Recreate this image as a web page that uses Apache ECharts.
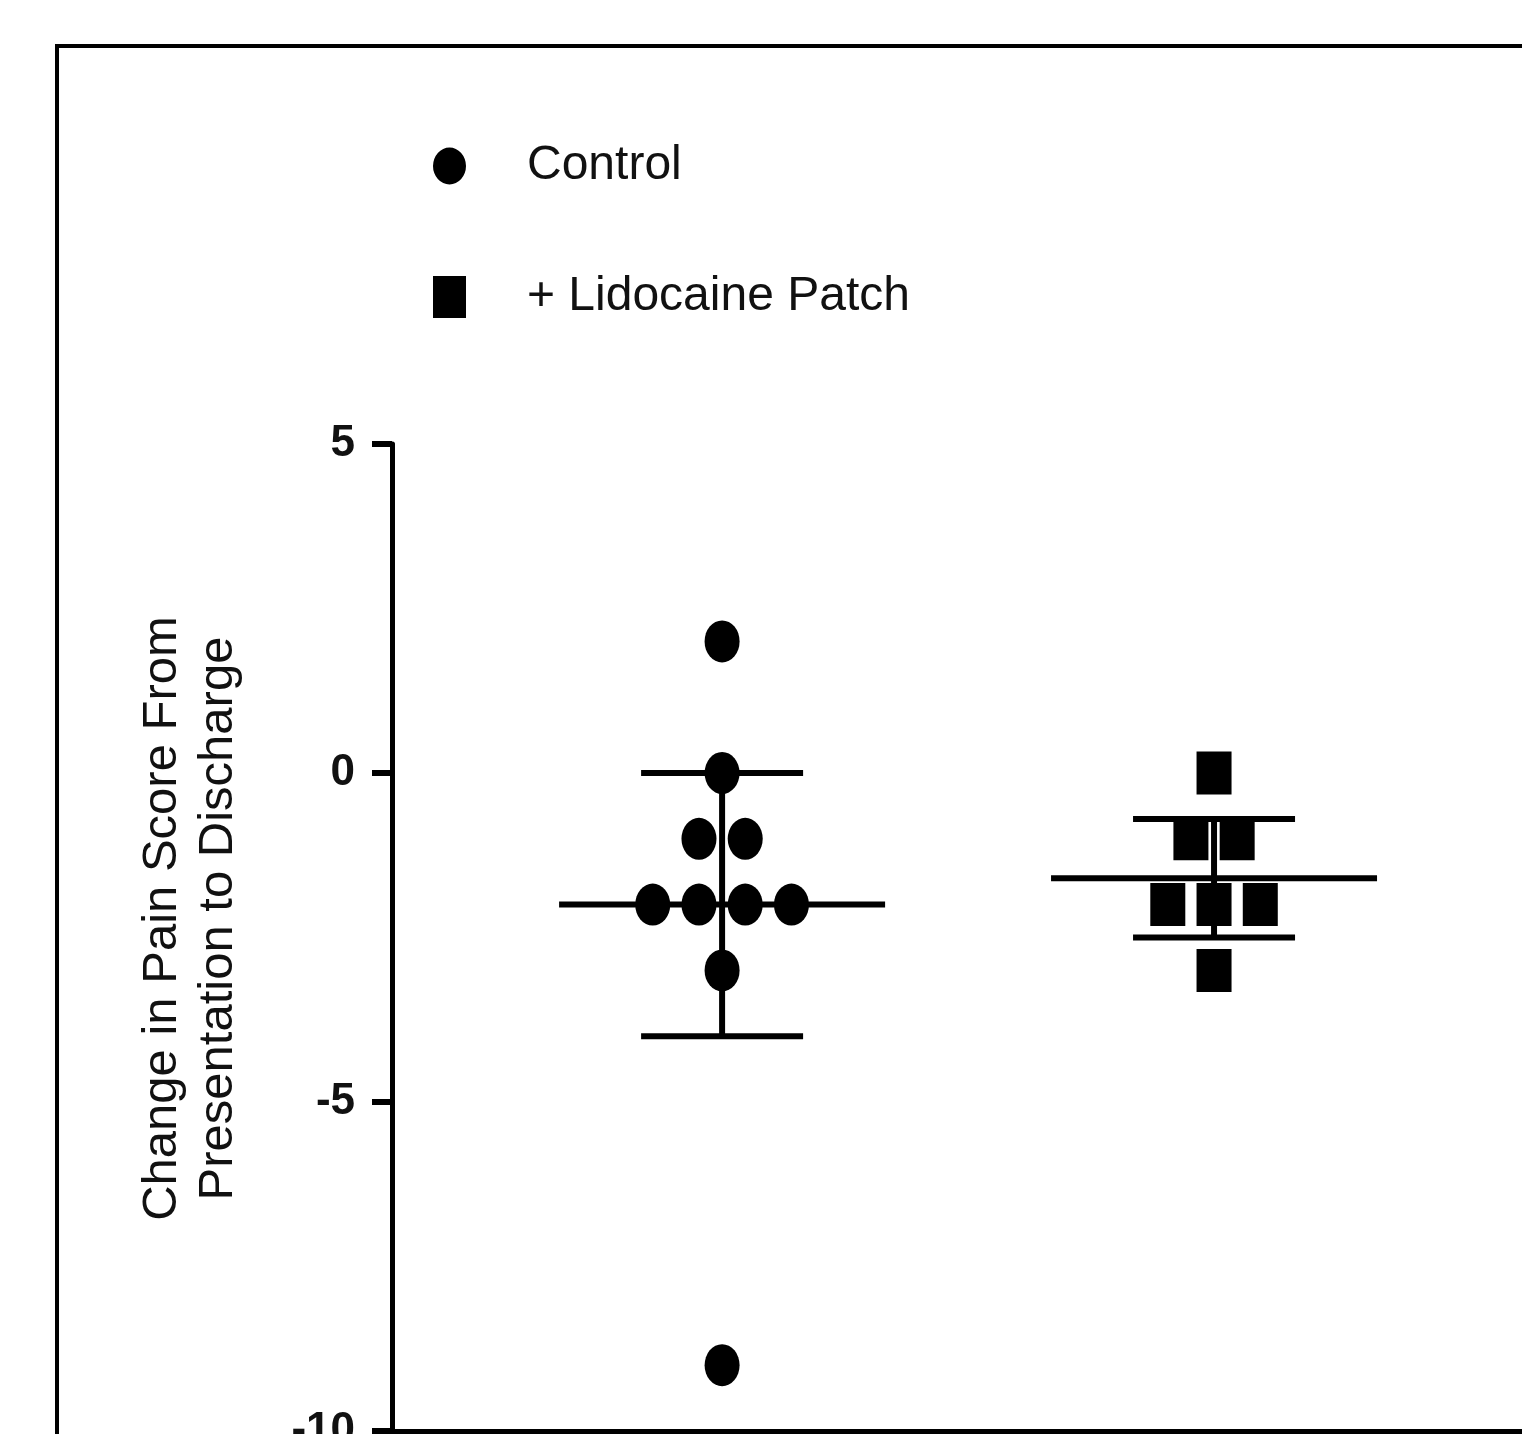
<!DOCTYPE html>
<html>
<head>
<meta charset="utf-8">
<script src="https://cdn.jsdelivr.net/npm/echarts@6/dist/echarts.min.js"></script>
<style>
  html, body { margin: 0; padding: 0; background: #fff; }
  #chart { width: 1522px; height: 1434px; }
</style>
</head>
<body>
<div id="chart"></div>
<script>
// groups and raw values
const groupNames = ['Control', '+ Lidocaine Patch'];
const groupX = [1, 2];
const controlValues = [2, 0, -1, -1, -2, -2, -2, -2, -3, -9];
const lidocaineValues = [0, -1, -1, -2, -2, -2, -3];
// mean line and error bar ends
const groupMeans = [-2, -1.6];
const barLow = [-4, -2.5];
const barHigh = [0, -0.7];
const yTicks = { min: -10, max: 5, interval: 5 };
const yName = 'Change in Pain Score From\nPresentation to Discharge';

const FONT = 'Liberation Sans, Arial, sans-serif';
const ELLIPSE = 'path://M50,0 A50,50 0 1,1 50,100 A50,50 0 1,1 50,0 Z';
// legend icons keep their aspect, so give this one the tall shape itself
const LEGEND_ELLIPSE = 'path://M50,0 A50,56 0 1,1 50,112 A50,56 0 1,1 50,0 Z';

// spread equal values sideways, like a dot plot
const spread = (values, cx, step) => {
    const counts = {};
    values.forEach(v => { counts[v] = (counts[v] || 0) + 1; });
    const seen = {};
    return values.map(v => {
        const k = seen[v] || 0;
        seen[v] = k + 1;
        return [cx + (k - (counts[v] - 1) / 2) * step, v];
    });
};

const STEP = 0.094;
const controlPoints = spread(controlValues, groupX[0], STEP);
const lidoPoints = spread(lidocaineValues, groupX[1], STEP);
const barData = groupX.map((x, i) => [x, groupMeans[i], barLow[i], barHigh[i]]);

const chart = echarts.init(document.getElementById('chart'), null, { renderer: 'canvas' });

const legendBase = {
    left: 433,
    padding: 0,
    selectedMode: false,
    itemStyle: { color: '#000', opacity: 1 },
};

const option = {
    backgroundColor: '#fff',
    animation: false,
    graphic: [{
        type: 'rect',
        shape: { x: 57, y: 46, width: 1600, height: 1600 },
        style: { fill: 'none', stroke: '#000', lineWidth: 4 },
        z: -1
    }],
    legend: [Object.assign({}, legendBase, {
        data: [{ name: groupNames[0], icon: LEGEND_ELLIPSE }],
        top: 142,
        itemWidth: 33,
        itemHeight: 38,
        textStyle: { fontSize: 48, fontFamily: FONT, color: '#111', padding: [0, 0, 4, 56] }
    }), Object.assign({}, legendBase, {
        data: [{ name: groupNames[1], icon: 'rect' }],
        top: 273,
        itemWidth: 33,
        itemHeight: 42,
        textStyle: { fontSize: 48, fontFamily: FONT, color: '#111', padding: [0, 0, 46, 56] }
    })],
    grid: { left: 392, right: 0, top: 444, bottom: 3, outerBoundsMode: 'none', containLabel: false },
    xAxis: {
        type: 'value',
        min: 0.329,
        max: 2.626,
        axisLine: { show: true, onZero: false, lineStyle: { color: '#000', width: 5 } },
        axisTick: { show: false },
        axisLabel: { show: false },
        splitLine: { show: false }
    },
    yAxis: {
        type: 'value',
        min: yTicks.min,
        max: yTicks.max,
        interval: yTicks.interval,
        name: yName,
        nameLocation: 'middle',
        nameRotate: 90,
        nameGap: 146,
        nameTextStyle: {
            fontSize: 49, fontFamily: FONT, color: '#111', lineHeight: 56,
            align: 'center', padding: [0, 0, 0, 38]
        },
        axisLine: { show: true, lineStyle: { color: '#000', width: 5 } },
        axisTick: { show: true, length: 20, lineStyle: { color: '#000', width: 6 } },
        axisLabel: { fontSize: 44, fontWeight: 'bold', fontFamily: FONT, color: '#111', margin: 37 },
        splitLine: { show: false }
    },
    series: [{
        name: 'bars',
        type: 'custom',
        z: 1,
        data: barData,
        renderItem: (params, api) => {
            const x = api.value(0);
            const mid = api.coord([x, api.value(1)]);
            const lo = api.coord([x, api.value(2)]);
            const hi = api.coord([x, api.value(3)]);
            const st = { stroke: '#000', lineWidth: 6 };
            const seg = (x1, y1, x2, y2) => ({ type: 'line', shape: { x1, y1, x2, y2 }, style: st });
            return {
                type: 'group',
                children: [
                    seg(mid[0], hi[1], mid[0], lo[1]),
                    seg(mid[0] - 81, hi[1], mid[0] + 81, hi[1]),
                    seg(mid[0] - 81, lo[1], mid[0] + 81, lo[1]),
                    seg(mid[0] - 163, mid[1], mid[0] + 163, mid[1])
                ]
            };
        }
    }, {
        name: groupNames[0],
        type: 'scatter',
        z: 3,
        symbol: ELLIPSE,
        symbolSize: [35, 42],
        itemStyle: { color: '#000', opacity: 1 },
        data: controlPoints
    }, {
        name: groupNames[1],
        type: 'scatter',
        z: 3,
        symbol: 'rect',
        symbolSize: [35, 43],
        itemStyle: { color: '#000', opacity: 1 },
        data: lidoPoints
    }]
};

chart.setOption(option);
</script>
</body>
</html>
